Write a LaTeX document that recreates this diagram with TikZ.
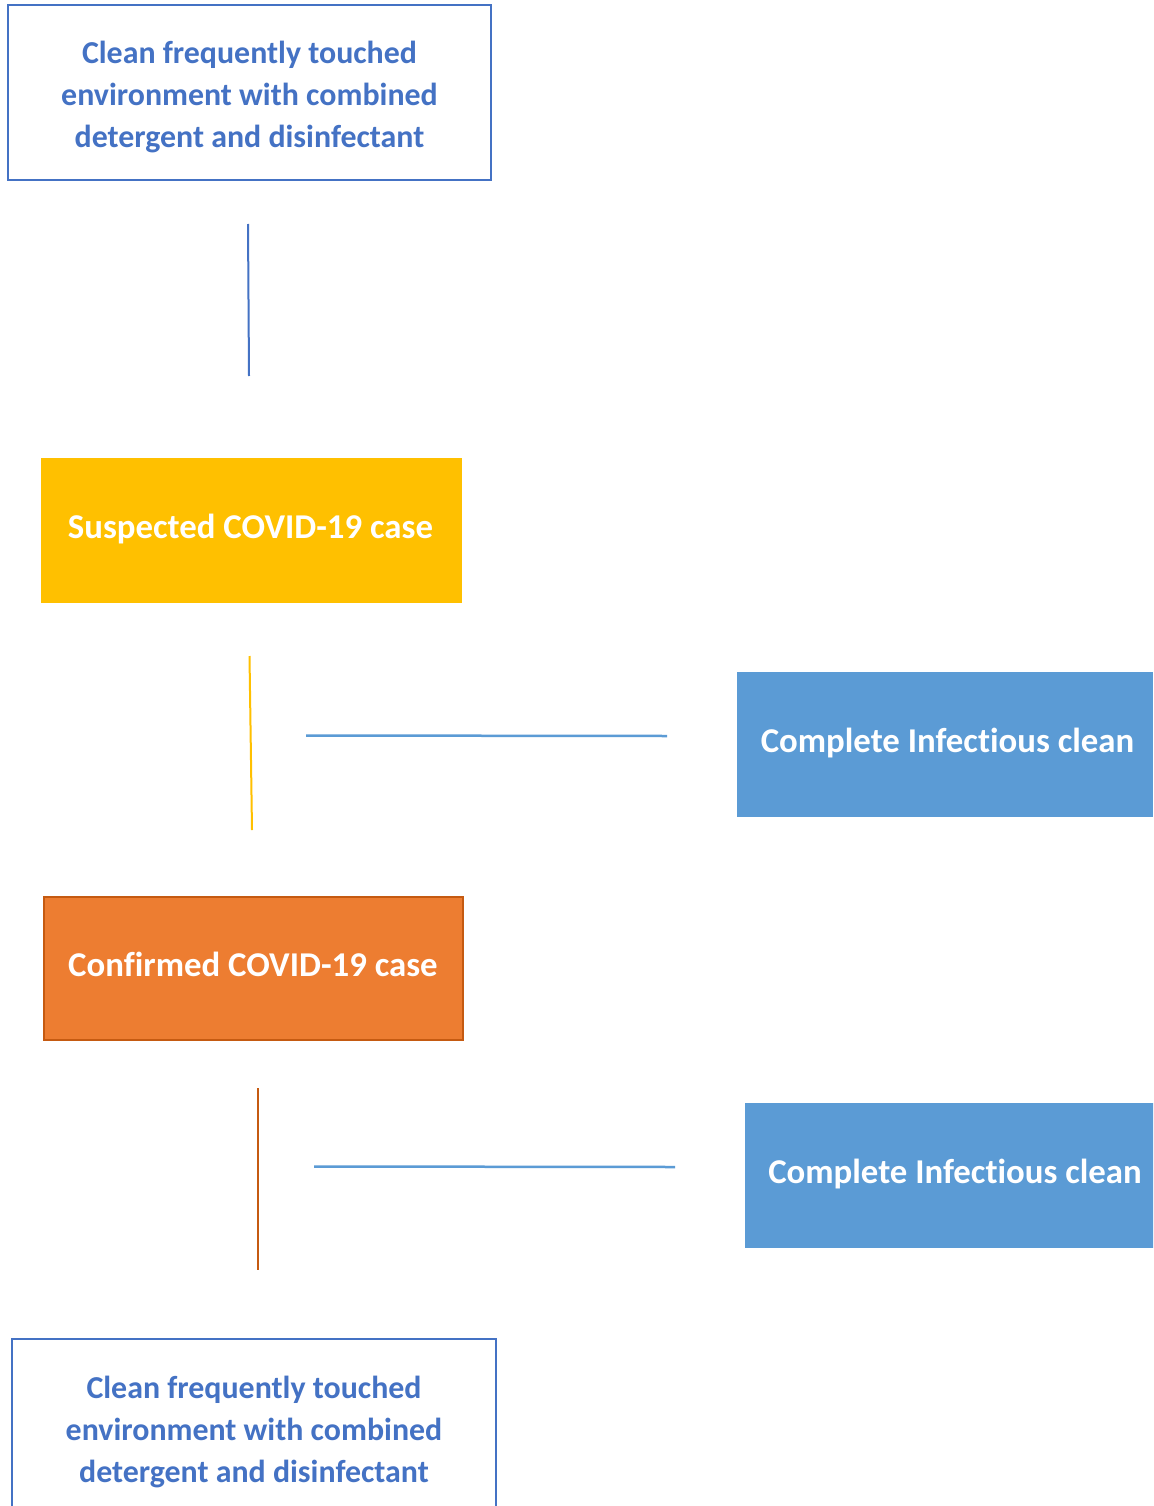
\documentclass[tikz,border=0pt]{standalone}
\usepackage{fontspec}
\setmainfont{Carlito}[Ligatures=NoCommon]
\definecolor{txtblue}{HTML}{4472C4}
\definecolor{cyellow}{HTML}{FFC000}
\definecolor{corange}{HTML}{ED7D31}
\definecolor{corangedk}{HTML}{C55A11}
\definecolor{cblue}{HTML}{5B9BD5}
\begin{document}
\begin{tikzpicture}[x=1pt,y=-1pt,
  bluelbl/.style={font=\bfseries\fontsize{31.9}{42}\selectfont, align=center, inner sep=0pt, text=txtblue},
  whitelbl/.style={font=\bfseries\fontsize{34.8}{42}\selectfont, align=center, inner sep=0pt, text=white},
  cleanbox/.style={draw=txtblue, line width=2pt, fill=white, minimum width=483pt, minimum height=175pt, inner sep=0pt},
  suspbox/.style={fill=cyellow, minimum width=421pt, minimum height=145pt, inner sep=0pt},
  confbox/.style={fill=corange, draw=corangedk, line width=2pt, minimum width=419pt, minimum height=143pt, inner sep=0pt},
  infbox/.style={fill=cblue, minimum height=145pt, inner sep=0pt},
  conn/.style={line width=2pt}
]
\useasboundingbox (0,0) rectangle (1153,1506);
\clip (0,0) rectangle (1153,1506);
\fill[white] (0,0) rectangle (1153,1506);

\node[cleanbox] (top) at (249.5,92.5) {};
\node[bluelbl] (toptxt) at ([yshift=-5pt]top.center) {Clean frequently touched\\environment with combined\\detergent and disinfectant};
\node[suspbox] (susp) at (251.5,530.5) {};
\node[whitelbl] (susptxt) at ([xshift=-1pt,yshift=1pt]susp.center) {Suspected COVID-19 case};
\node[confbox] (conf) at (253.5,968.5) {};
\node[whitelbl] (conftxt) at ([xshift=-0.5pt,yshift=4pt]conf.center) {Confirmed COVID-19 case};
\node[infbox, minimum width=416pt] (inf1) at (945,744.5) {};
\node[whitelbl] (inf1txt) at ([xshift=2.5pt,yshift=1pt]inf1.center) {Complete Infectious clean};
\node[infbox, minimum width=416pt] (inf2) at (953,1175.5) {};
\node[whitelbl] (inf2txt) at ([xshift=2pt,yshift=1pt]inf2.center) {Complete Infectious clean};
\node[cleanbox, minimum width=484pt] (bot) at (254,1426.5) {};
\node[bluelbl] (bottxt) at ([yshift=-5pt]bot.center) {Clean frequently touched\\environment with combined\\detergent and disinfectant};

\coordinate (a1) at (248,224);
\coordinate (a2) at (249,376);
\coordinate (b1) at (249.5,656);
\coordinate (b2) at (252,830);
\coordinate (c1) at (306,735.5);
\coordinate (c2) at (667,736);
\coordinate (d1) at (258,1088);
\coordinate (d2) at (258,1270);
\coordinate (e1) at (314,1166.5);
\coordinate (e2) at (675,1167);

\draw[conn, draw=txtblue] (a1) -- (a2);
\draw[conn, draw=cyellow] (b1) -- (b2);
\draw[conn, draw=cblue, line width=2.5pt] (c1) -- (c2);
\draw[conn, draw=corangedk] (d1) -- (d2);
\draw[conn, draw=cblue, line width=2.5pt] (e1) -- (e2);
\end{tikzpicture}
\end{document}
